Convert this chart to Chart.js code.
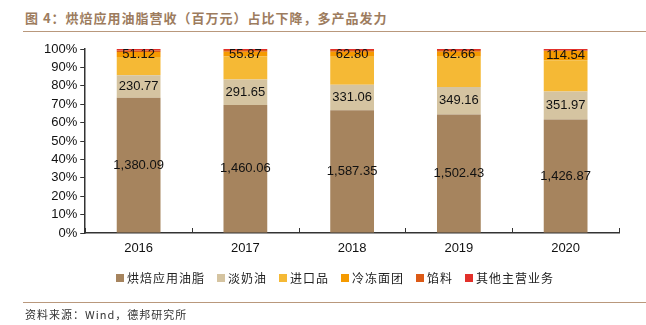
<!DOCTYPE html>
<html>
<head>
<meta charset="utf-8">
<script src="https://cdn.jsdelivr.net/npm/chart.js@4.4.1/dist/chart.umd.min.js"></script>
<style>
  body { margin: 0; background: #fff; }
  #wrap { position: relative; width: 646px; height: 325px; overflow: hidden; }
  #chart { position: absolute; left: 0; top: 0; }
  .title {
    position: absolute; left: 25px; top: 8px;
    font: bold 13px "Noto Sans CJK SC", sans-serif; letter-spacing: 1px;
    color: #9d7c5e; white-space: nowrap;
  }
  .rule { position: absolute; left: 23px; right: 0; height: 0; border-top: 1.5px solid #b9987c; }
  .legend {
    position: absolute; left: 116px; top: 269px;
    font: 12px "Noto Sans CJK SC", sans-serif; letter-spacing: 1px; color: #222;
    display: flex; white-space: nowrap;
  }
  .legend span.item { display: flex; align-items: center; margin-right: 12px; }
  .legend i { display: inline-block; width: 8px; height: 8px; margin-right: 3px; }
  .source {
    position: absolute; left: 25px; top: 306px;
    font: 11px "Noto Sans CJK SC", sans-serif; letter-spacing: 1px; color: #333; white-space: nowrap;
  }
</style>
</head>
<body>
<div id="wrap">
  <div class="title">图 4：烘焙应用油脂营收（百万元）占比下降，多产品发力</div>
  <div class="rule" style="top:31px"></div>
  <canvas id="chart" width="646" height="325"></canvas>
  <div class="legend" id="legend"></div>
  <div class="rule" style="top:302px"></div>
  <div class="source">资料来源：Wind，德邦研究所</div>
</div>
<script>
const years = ["2016", "2017", "2018", "2019", "2020"];

// 百万元
const bakingFat = [1380.09, 1460.06, 1587.35, 1502.43, 1426.87];
const cream = [230.77, 291.65, 331.06, 349.16, 351.97];
const imported = [186, 263, 363, 384, 394];
const frozenDough = [51.12, 55.87, 62.80, 62.66, 114.54];
const filling = [15, 18, 22, 22, 8];
const others = [15, 12, 14, 13, 18];

const seriesNames = ["烘焙应用油脂", "淡奶油", "进口品", "冷冻面团", "馅料", "其他主营业务"];
const seriesColors = ["#a6845e", "#d5c4a1", "#f5b935", "#f59a00", "#dc5a16", "#e2302a"];
const labelled = [true, true, false, true, false, false];

const yTicks = [0, 10, 20, 30, 40, 50, 60, 70, 80, 90, 100];

const raw = [bakingFat, cream, imported, frozenDough, filling, others];
const totals = years.map((_, i) => raw.reduce((s, arr) => s + arr[i], 0));

const fmt = (v) =>
  v.toLocaleString("en-US", { minimumFractionDigits: 2, maximumFractionDigits: 2 });

const segLabels = {
  id: "segLabels",
  afterDatasetsDraw(chart) {
    const ctx = chart.ctx;
    ctx.save();
    ctx.font = '13px "Liberation Sans", Arial, sans-serif';
    ctx.fillStyle = "#111";
    ctx.textAlign = "center";
    ctx.textBaseline = "middle";
    chart.data.datasets.forEach((ds, di) => {
      if (!labelled[di]) return;
      chart.getDatasetMeta(di).data.forEach((bar, i) => {
        const y = (bar.y + bar.base) / 2;
        ctx.fillText(fmt(ds.raw[i]), bar.x, y);
      });
    });
    ctx.restore();
  },
};

// small upward tick marks between categories on the x axis
const innerTicks = {
  id: "innerTicks",
  afterDraw(chart) {
    const x = chart.scales.x;
    const y = chart.scales.y;
    const ctx = chart.ctx;
    const step = x.getPixelForValue(1) - x.getPixelForValue(0);
    ctx.save();
    ctx.strokeStyle = "#333";
    ctx.lineWidth = 1;
    for (let i = 0; i <= years.length; i++) {
      const px = Math.round(x.getPixelForValue(0) - step / 2 + i * step) + 0.5;
      ctx.beginPath();
      ctx.moveTo(px, y.bottom);
      ctx.lineTo(px, y.bottom - 5);
      ctx.stroke();
    }
    ctx.restore();
  },
};

new Chart(document.getElementById("chart"), {
  type: "bar",
  data: {
    labels: years,
    datasets: raw.map((arr, di) => ({
      label: seriesNames[di],
      raw: arr,
      data: arr.map((v, i) => (v / totals[i]) * 100),
      backgroundColor: seriesColors[di],
      borderWidth: 0,
      barPercentage: 0.41,
      categoryPercentage: 1,
    })),
  },
  options: {
    responsive: false,
    animation: false,
    layout: { padding: { left: 41, right: 27, top: 49, bottom: 68 } },
    plugins: { legend: { display: false }, tooltip: { enabled: false } },
    scales: {
      x: {
        stacked: true,
        grid: { display: false, drawTicks: false },
        border: { display: true, color: "#333", width: 1.5 },
        ticks: { color: "#111", padding: 8, font: { family: "Liberation Sans", size: 13 } },
        afterFit: (scale) => { scale.height = 24; },
      },
      y: {
        stacked: true,
        min: 0,
        max: 100,
        afterBuildTicks: (scale) => { scale.ticks = yTicks.map((v) => ({ value: v })); },
        grid: { drawOnChartArea: false, drawTicks: true, tickLength: 5, color: "#333" },
        border: { display: true, color: "#333", width: 1.5 },
        ticks: {
          autoSkip: false,
          color: "#111",
          padding: 3,
          font: { family: "Liberation Sans", size: 13 },
          callback: (v) => v + "%",
        },
      },
    },
  },
  plugins: [segLabels, innerTicks],
});

const legend = document.getElementById("legend");
seriesNames.forEach((name, i) => {
  const item = document.createElement("span");
  item.className = "item";
  item.innerHTML = `<i style="background:${seriesColors[i]}"></i>${name}`;
  legend.appendChild(item);
});
</script>
</body>
</html>
